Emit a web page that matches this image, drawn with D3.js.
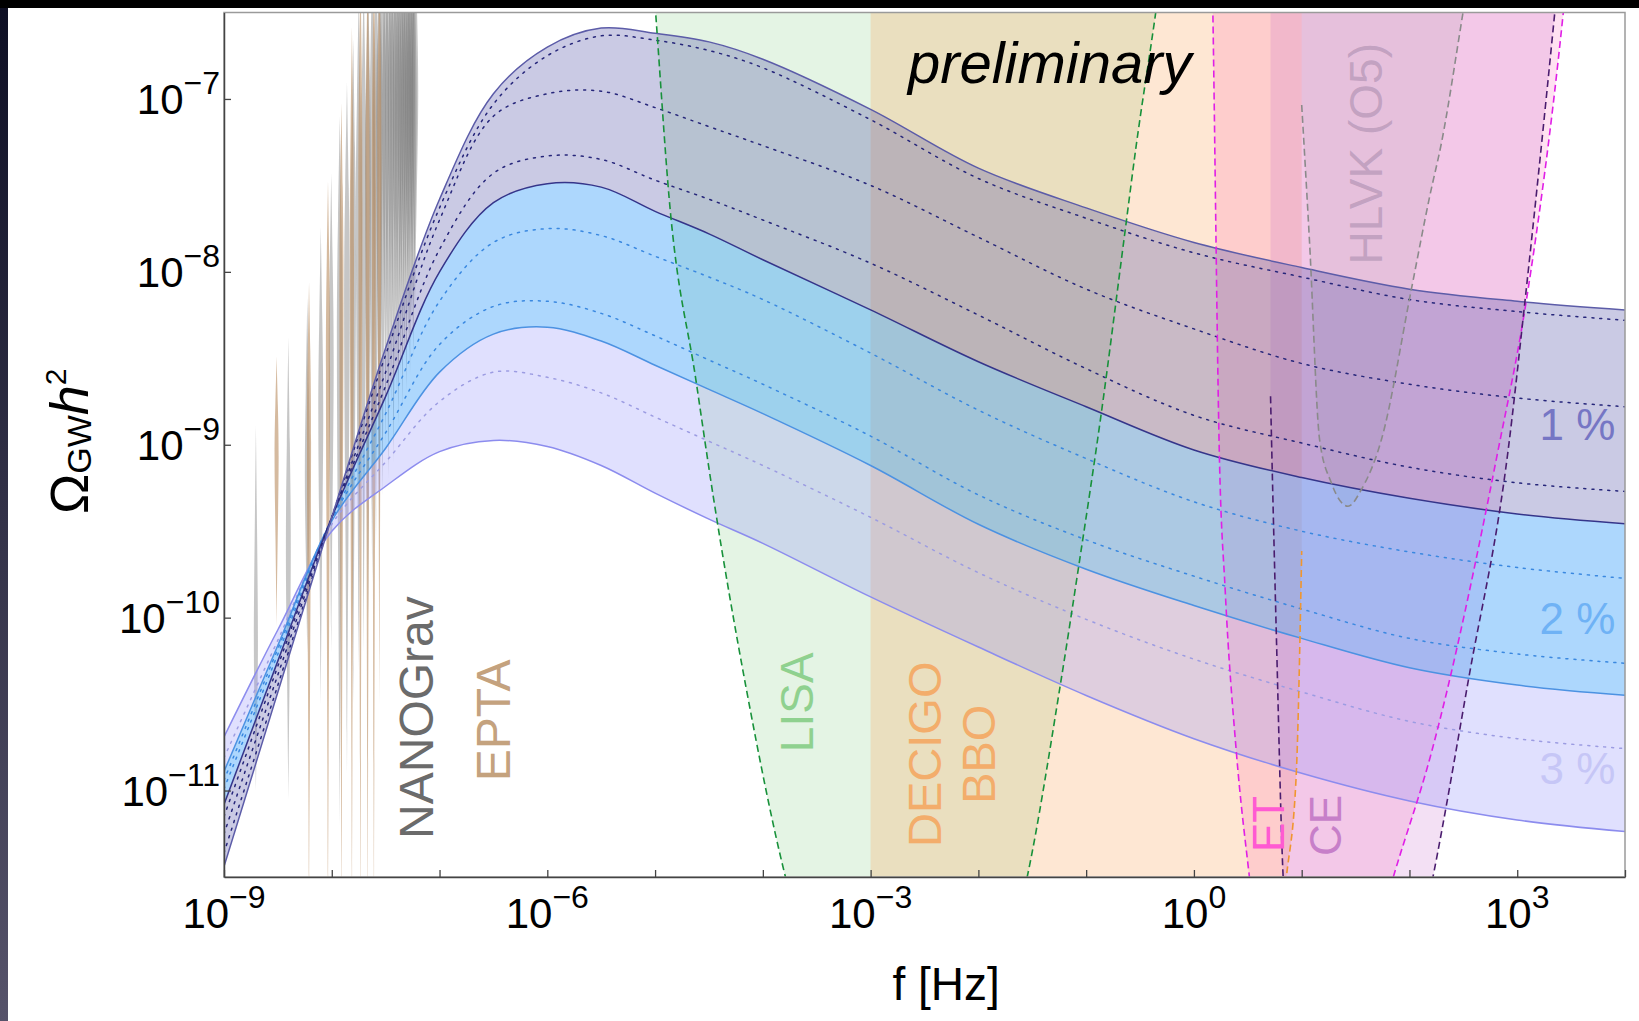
<!DOCTYPE html>
<html>
<head>
<meta charset="utf-8">
<script src="https://cdn.jsdelivr.net/npm/d3@7"></script>
<style>
  html, body { margin: 0; padding: 0; background: #fff; }
  svg { display: block; }
  text { font-family: "Liberation Sans", Arial, Helvetica, sans-serif; }
</style>
</head>
<body>
<svg id="chart" width="1639" height="1021"></svg>
<script>
// ---- data (log10 f [Hz], log10 Omega_GW h^2) ----
const logF = [-9, -8.5, -8, -7.5, -7, -6.5, -6, -5.5, -5, -4.5, -4, -3, -2, -1, 0, 1, 2, 3, 4];

// 1 % band
const band1Upper = [-11.44, -10.43, -9.42, -8.44, -7.58, -6.97, -6.70, -6.59, -6.62, -6.67, -6.77, -7.06, -7.40, -7.63, -7.83, -7.975, -8.10, -8.17, -8.22];
const band1DotA  = [-11.36, -10.39, -9.42, -8.48, -7.63, -7.03, -6.75, -6.635, -6.66, -6.72, -6.82, -7.12, -7.46, -7.69, -7.89, -8.03, -8.16, -8.23, -8.28];
const band1DotB  = [-11.25, -10.33, -9.42, -8.58, -7.70, -7.10, -6.97, -6.955, -7.05, -7.16, -7.27, -7.50, -7.80, -8.10, -8.33, -8.53, -8.65, -8.73, -8.78];
const band1DotC  = [-11.15, -10.28, -9.42, -8.66, -7.87, -7.43, -7.33, -7.35, -7.47, -7.58, -7.70, -7.95, -8.25, -8.56, -8.83, -8.99, -9.13, -9.22, -9.27];
const band1Lower = [-11.08, -10.25, -9.42, -8.72, -8.00, -7.60, -7.49, -7.51, -7.65, -7.78, -7.93, -8.22, -8.52, -8.78, -9.03, -9.19, -9.31, -9.40, -9.457];
// 2 % band
const band2DotA  = [-10.99, -10.21, -9.43, -8.82, -8.17, -7.83, -7.75, -7.79, -7.91, -8.03, -8.16, -8.47, -8.80, -9.08, -9.33, -9.50, -9.62, -9.71, -9.773];
const band2DotB  = [-10.94, -10.18, -9.43, -8.93, -8.42, -8.20, -8.17, -8.24, -8.37, -8.51, -8.65, -8.95, -9.29, -9.55, -9.76, -9.95, -10.12, -10.21, -10.264];
const band2Lower = [-10.89, -10.16, -9.44, -9.02, -8.58, -8.36, -8.32, -8.40, -8.54, -8.68, -8.82, -9.12, -9.46, -9.72, -9.93, -10.12, -10.29, -10.39, -10.449];
// 3 % band
const band3Dot   = [-10.81, -10.13, -9.46, -9.10, -8.75, -8.58, -8.61, -8.70, -8.84, -8.98, -9.12, -9.42, -9.74, -10.01, -10.24, -10.43, -10.60, -10.70, -10.757];
const band3Lower = [-10.69, -10.07, -9.50, -9.24, -9.04, -8.975, -9.01, -9.12, -9.28, -9.43, -9.57, -9.88, -10.17, -10.45, -10.70, -10.90, -11.06, -11.17, -11.237];

// detector sensitivity curves
const lisaLogF     = [-5.03, -4.995, -4.87, -4.62, -4.46, -4.16, -3.79, -3.2, -2.6, -2.0, -1.547, -1.245, -1.066, -0.86, -0.64, -0.54, -0.35, -0.3];
const lisaLogOmega = [-6.2, -6.5, -7.57, -8.63, -9.3, -10.39, -11.5, -12.5, -12.9, -12.4, -11.5, -10.41, -9.69, -8.82, -7.77, -7.29, -6.48, -6.25];
const decigoLogF     = [-3, -2, -1, 0, 0.6, 0.858, 0.95, 1.0];
const decigoLogOmega = [-13.6, -15.4, -15.8, -14.6, -12.6, -11.5, -10.9, -9.615];
const etLogF     = [0.168, 0.176, 0.235, 0.29, 0.394, 0.515, 0.7, 1.0, 1.4, 1.85, 2.204, 2.823, 3.086, 3.428, 3.46];
const etLogOmega = [-6.2, -6.506, -9.03, -9.84, -10.78, -11.5, -12.4, -13.1, -12.5, -11.5, -10.78, -9.03, -8.16, -6.497, -6.3];
const ceLogF     = [0.711, 0.72, 0.766, 0.828, 1.0, 1.5, 1.9, 2.218, 2.55, 2.916, 3.07, 3.349, 3.38];
const ceLogOmega = [-8.72, -8.97, -10.13, -11.5, -12.6, -13.0, -12.4, -11.5, -10.35, -9.03, -8.18, -6.497, -6.3];
const hlvkLogF     = [1.0, 1.073, 1.166, 1.275, 1.43, 1.553, 1.74, 2.018, 2.188, 2.297, 2.498, 2.55];
const hlvkLogOmega = [-7.035, -7.83, -8.97, -9.22, -9.356, -9.26, -8.97, -8.10, -7.563, -7.254, -6.497, -6.3];

// PTA free-spectrum violins
const ngLogF = [-8.704, -8.403, -8.227, -8.102, -8.005, -7.926, -7.859, -7.801, -7.750, -7.704, -7.663, -7.625, -7.590, -7.558, -7.528,
                -7.500, -7.474, -7.449, -7.426, -7.403, -7.382, -7.362, -7.343, -7.325, -7.307, -7.290, -7.274, -7.258, -7.243, -7.228];
const ngTop = [-8.89, -8.38, -8.15, -7.74, -7.43, -7.10, -6.90, -6.65, -6.40, -6.30, -6.30, -6.20, -6.20, -6.10, -6.0,
               -6.0, -6.0, -6.0, -6.0, -6.0, -6.0, -6.0, -6.0, -6.0, -6.0, -6.0, -6.0, -6.0, -6.0, -6.0];
const ngMid = [-10.2, -9.6, -9.2, -8.8, -8.5, -8.3, -8.1, -7.9, -7.6, -7.5, -7.4, -7.3, -7.2, -7.1, -7.0,
               -7.0, -6.95, -7.0, -6.9, -6.95, -7.0, -6.9, -6.95, -7.0, -6.9, -7.0, -6.95, -6.9, -7.0, -6.95];
const ngBot = [-11.0, -11.05, -10.2, -10.5, -10.2, -11.2, -10.9, -10.5, -10.3, -10.2, -10.0, -9.8, -9.6, -9.5, -9.3,
               -9.0, -9.2, -8.8, -9.1, -8.7, -8.9, -8.6, -8.8, -8.5, -8.7, -8.4, -8.6, -8.3, -8.5, -8.2];
const ngSpread = [2.5, 3, 3, 3, 3, 3.5, 3.5, 3.5, 3.5, 3.5, 3.5, 3.5, 3.5, 4, 4,
                  4, 4, 4, 4, 4, 4, 4, 4, 4, 4, 4, 4, 4, 4, 4];
const eptaLogF = [-8.512, -8.211, -8.035, -7.910, -7.813, -7.734, -7.667, -7.609, -7.558];
const eptaTop  = [-8.49, -8.06, -7.47, -7.02, -6.58, -6.2, -6.2, -6.2, -6.2];
const eptaMid  = [-9.05, -8.85, -8.4, -8.0, -7.7, -7.4, -7.3, -7.3, -7.2];
const eptaBot  = [-10.05, -11.8, -11.8, -11.8, -11.8, -11.8, -11.8, -11.8, -10.5];
const eptaSpread = [2.5, 2.5, 2.5, 2.5, 2.5, 2.5, 2.5, 2.5, 2.5];

const xTicks = [-9, -8, -7, -6, -5, -4, -3, -2, -1, 0, 1, 2, 3, 4];
const xLabels = [-9, -6, -3, 0, 3];
const yTicks = [-11, -10, -9, -8, -7];

// ---- layout ----
const svg = d3.select("#chart");
const margin = { top: 12.5, right: 14, bottom: 144, left: 224 };
const width = 1639 - margin.left - margin.right;
const height = 1021 - margin.top - margin.bottom;

// slide background edges
svg.append("rect").attr("x", 0).attr("y", 0).attr("width", 1639).attr("height", 1021).attr("fill", "#fff");
const defs = svg.append("defs");
const grad = defs.append("linearGradient").attr("id", "edge").attr("x1", 0).attr("x2", 0).attr("y1", 0).attr("y2", 1);
grad.append("stop").attr("offset", "0%").attr("stop-color", "#0e0f24");
grad.append("stop").attr("offset", "100%").attr("stop-color", "#56536a");
svg.append("rect").attr("x", 0).attr("y", 0).attr("width", 8).attr("height", 1021).attr("fill", "url(#edge)");
svg.append("rect").attr("x", 0).attr("y", 0).attr("width", 1639).attr("height", 8).attr("fill", "#000");

defs.append("clipPath").attr("id", "plotClip")
  .append("rect").attr("width", width).attr("height", height);

const g = svg.append("g").attr("transform", `translate(${margin.left},${margin.top})`);

const x = d3.scaleLog().domain([1e-9, 1e4]).range([0, width]);
const y = d3.scaleLog().domain([Math.pow(10, -11.5), Math.pow(10, -6.5)]).range([height, 0]);
const X = lf => x(Math.pow(10, lf));
const Y = lo => y(Math.pow(10, lo));

const plot = g.append("g").attr("clip-path", "url(#plotClip)");

// detector regions (filled above the curve)
const pairs = (fs, os) => fs.map((f, i) => [f, os[i]]);
const fillAbove = d3.area().x(d => X(d[0])).y0(d => Y(d[1])).y1(-60).curve(d3.curveMonotoneX);
const curveLine = d3.line().x(d => X(d[0])).y(d => Y(d[1])).curve(d3.curveMonotoneX);

const detectors = [
  { pts: pairs(lisaLogF, lisaLogOmega), fill: "rgba(95,190,95,0.17)", stroke: "#17913a" },
  { pts: pairs(decigoLogF, decigoLogOmega), fill: "rgba(250,160,80,0.25)", stroke: "#f0962e" },
  { pts: pairs(etLogF, etLogOmega), fill: "rgba(255,80,170,0.17)", stroke: "#e01ee6" },
  { pts: pairs(ceLogF, ceLogOmega), fill: "rgba(195,100,200,0.2)", stroke: "#4a1c6e" },
  { pts: pairs(hlvkLogF, hlvkLogOmega), fill: "rgba(140,140,140,0.12)", stroke: "#8a8a8a" }
];
detectors.forEach(d => {
  plot.append("path").attr("d", fillAbove(d.pts)).attr("fill", d.fill);
});

// PTA violins
function violin(lf, top, mid, bot, w) {
  const pts = [
    { o: top, w: 0 }, { o: (top + mid) / 2, w: 0.5 * w }, { o: mid, w: w },
    { o: (mid + bot) / 2, w: 0.4 * w }, { o: bot, w: 0 }
  ];
  return d3.area().y(d => Y(d.o)).x0(d => X(lf) - d.w).x1(d => X(lf) + d.w).curve(d3.curveBasis)(pts);
}
ngLogF.forEach((f, i) => {
  plot.append("path").attr("d", violin(f, ngTop[i], ngMid[i], ngBot[i], ngSpread[i]))
    .attr("fill", "rgba(120,120,120,0.42)");
});
eptaLogF.forEach((f, i) => {
  plot.append("path").attr("d", violin(f, eptaTop[i], eptaMid[i], eptaBot[i], eptaSpread[i]))
    .attr("fill", "rgba(185,140,95,0.6)");
});

// bands
const smooth = d3.curveCatmullRom.alpha(0.5);
const bandArea = (upper, lower) => d3.area()
  .x((d, i) => X(logF[i])).y0((d, i) => Y(lower[i])).y1((d, i) => Y(upper[i]))
  .curve(smooth)(logF);
const bandLine = vals => d3.line()
  .x((d, i) => X(logF[i])).y((d, i) => Y(vals[i]))
  .curve(smooth)(logF);

plot.append("path").attr("d", bandArea(band2Lower, band3Lower)).attr("fill", "rgba(140,140,250,0.27)");
plot.append("path").attr("d", bandArea(band1Lower, band2Lower)).attr("fill", "rgba(60,160,250,0.42)");
plot.append("path").attr("d", bandArea(band1Upper, band1Lower)).attr("fill", "rgba(90,90,170,0.32)");

const bandLines = [
  { v: band3Lower, c: "#8c8cee", dash: null },
  { v: band3Dot, c: "#9c9ce2", dash: "2 6" },
  { v: band2Lower, c: "#4c92e2", dash: null },
  { v: band2DotB, c: "#3a88e0", dash: "2 6" },
  { v: band2DotA, c: "#3a88e0", dash: "2 6" },
  { v: band1Lower, c: "#35358a", dash: null },
  { v: band1DotC, c: "#26267a", dash: "2 6" },
  { v: band1DotB, c: "#26267a", dash: "2 6" },
  { v: band1DotA, c: "#26267a", dash: "2 6" },
  { v: band1Upper, c: "#5c5ca8", dash: null }
];
bandLines.forEach(b => {
  plot.append("path").attr("d", bandLine(b.v)).attr("fill", "none")
    .attr("stroke", b.c).attr("stroke-width", 1.5)
    .attr("stroke-dasharray", b.dash).attr("stroke-linecap", b.dash ? "round" : null);
});

// detector dashed curves on top
detectors.forEach(d => {
  plot.append("path").attr("d", curveLine(d.pts)).attr("fill", "none")
    .attr("stroke", d.stroke).attr("stroke-width", 1.6).attr("stroke-dasharray", "7 4");
});

// ---- frame and axes ----
g.append("rect").attr("width", width).attr("height", height)
  .attr("fill", "none").attr("stroke", "#9a9a9a").attr("stroke-width", 1.5);

g.append("g").attr("transform", `translate(0,${height})`)
  .call(d3.axisBottom(x).tickValues(xTicks.map(t => Math.pow(10, t))).tickSizeInner(-7).tickSizeOuter(0).tickFormat(""))
  .call(a => a.select(".domain").attr("stroke", "#444").attr("stroke-width", 1.5))
  .call(a => a.selectAll(".tick line").attr("stroke", "#444").attr("stroke-width", 1.3));
g.append("g")
  .call(d3.axisLeft(y).tickValues(yTicks.map(t => Math.pow(10, t))).tickSizeInner(-7).tickSizeOuter(0).tickFormat(""))
  .call(a => a.select(".domain").attr("stroke", "#444").attr("stroke-width", 1.5))
  .call(a => a.selectAll(".tick line").attr("stroke", "#444").attr("stroke-width", 1.3));

function powLabel(sel, e) {
  sel.append("tspan").text("10");
  sel.append("tspan").attr("font-size", 32).attr("dy", -20).text(e < 0 ? "\u2212" + Math.abs(e) : String(e));
}
xLabels.forEach(e => {
  const t = g.append("text").attr("x", X(e)).attr("y", height + 51)
    .attr("text-anchor", "middle").attr("font-size", 42).attr("fill", "#000");
  powLabel(t, e);
});
yTicks.forEach(e => {
  const t = g.append("text").attr("x", -4).attr("y", Y(e) + 15)
    .attr("text-anchor", "end").attr("font-size", 42).attr("fill", "#000");
  powLabel(t, e);
});

// axis titles
g.append("text").attr("x", X(-2.3)).attr("y", height + 123)
  .attr("text-anchor", "middle").attr("font-size", 46).attr("fill", "#000").text("f [Hz]");
const yt = svg.append("text").attr("transform", `translate(88,${margin.top + Y(-8.98)}) rotate(-90)`)
  .attr("text-anchor", "middle").attr("font-size", 54).attr("fill", "#000");
yt.append("tspan").text("\u03A9");
yt.append("tspan").attr("font-size", 34).attr("dy", 3).text("GW");
yt.append("tspan").attr("dy", -3).attr("font-style", "italic").text("h");
yt.append("tspan").attr("font-size", 30).attr("dy", -22).text("2");

// ---- annotations ----
function vlabel(txt, lf, lo, size, color, anchor) {
  return g.append("text").attr("transform", `translate(${X(lf)},${Y(lo)}) rotate(-90)`)
    .attr("text-anchor", anchor || "start").attr("font-size", size).attr("fill", color).text(txt);
}
vlabel("NANOGrav", -7.06, -11.28, 48, "#6b6b6b");
vlabel("EPTA", -6.344, -10.946, 48, "#c4a27e");
vlabel("LISA", -3.539, -10.778, 46, "#8fd18f");
vlabel("DECIGO", -2.35, -10.79, 47, "#f3ad6b", "middle");
vlabel("BBO", -1.846, -10.79, 47, "#f3ad6b", "middle");
vlabel("ET", 0.835, -11.356, 44, "#ff5ad2");
vlabel("CE", 1.365, -11.379, 44, "#c77fc9");
vlabel("HLVK (O5)", 1.742, -7.958, 46, "rgba(150,125,160,0.45)");

g.append("text").attr("x", X(-2.654)).attr("y", Y(-6.906))
  .attr("font-size", 58).attr("font-style", "italic").attr("fill", "#000").text("preliminary");

const pctLabels = [["1 %", -8.97, "#7676c4"], ["2 %", -10.097, "#6fb2f5"], ["3 %", -10.964, "#c6c6f6"]];
pctLabels.forEach(p => {
  g.append("text").attr("x", X(3.91)).attr("y", Y(p[1]))
    .attr("text-anchor", "end").attr("font-size", 44).attr("fill", p[2]).text(p[0]);
});
</script>
</body>
</html>
